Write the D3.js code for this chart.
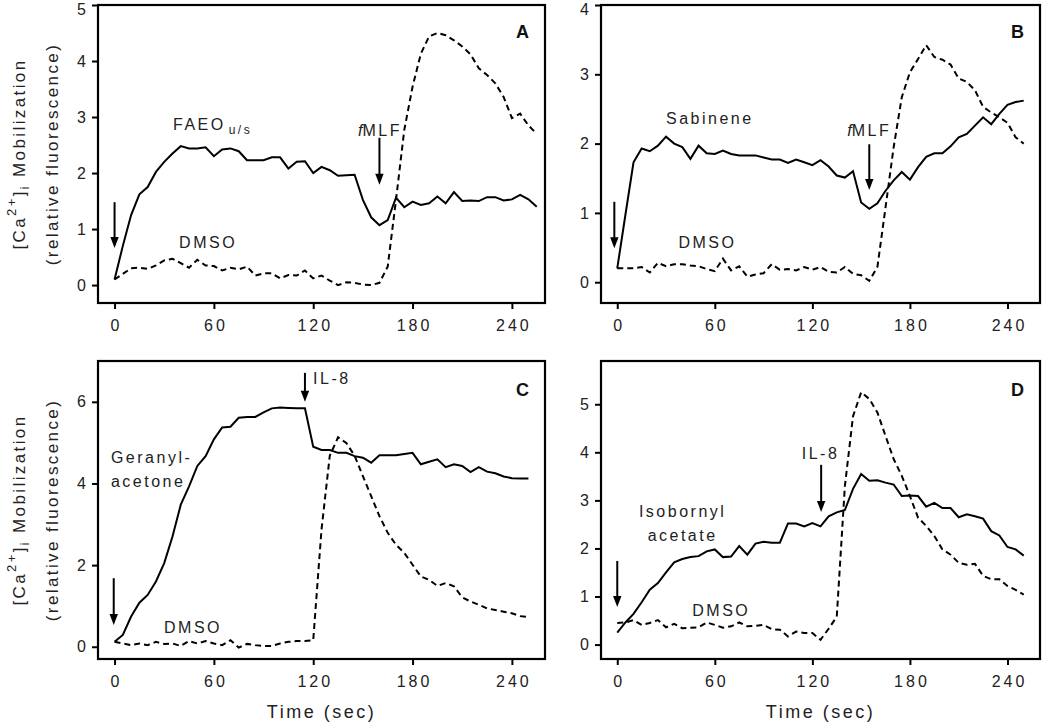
<!DOCTYPE html>
<html><head><meta charset="utf-8">
<script src="https://cdn.jsdelivr.net/npm/d3@7"></script>
<style>
body{margin:0;background:#fff;}
svg{display:block;font-family:"Liberation Sans",Arial,sans-serif;}
</style></head>
<body><svg id="chart" width="1050" height="722"></svg>
<script>
// ---------------- DATA ----------------
const xTicks = [0, 60, 120, 180, 240];
const timeA = d3.range(0, 256, 5);   // 0..255
const timeB = d3.range(0, 251, 5);   // 0..250
const timeC = d3.range(0, 251, 5);
const timeD = d3.range(0, 251, 5);

const solidA = [0.10,0.70,1.25,1.62,1.75,2.02,2.20,2.35,2.48,2.44,2.44,2.46,2.30,2.42,2.44,2.39,2.23,2.23,2.23,2.28,2.28,2.08,2.20,2.21,2.00,2.11,2.05,1.95,1.96,1.97,1.52,1.21,1.07,1.16,1.56,1.39,1.49,1.43,1.46,1.58,1.46,1.66,1.50,1.51,1.50,1.57,1.57,1.51,1.53,1.61,1.53,1.40];
const dmsoA  = [0.10,0.20,0.30,0.31,0.29,0.35,0.44,0.47,0.39,0.31,0.45,0.35,0.34,0.26,0.31,0.28,0.33,0.17,0.21,0.21,0.12,0.18,0.17,0.26,0.12,0.17,0.08,0.00,0.05,0.04,0.01,0.00,0.04,0.33,1.52,2.77,3.54,4.13,4.44,4.50,4.46,4.37,4.26,4.12,3.87,3.75,3.60,3.36,2.98,3.06,2.85,2.70];

const solidB = [0.20,0.97,1.73,1.93,1.89,1.97,2.10,2.00,1.95,1.78,1.97,1.86,1.85,1.90,1.85,1.83,1.83,1.83,1.80,1.77,1.77,1.72,1.77,1.73,1.69,1.76,1.67,1.54,1.51,1.60,1.15,1.06,1.14,1.32,1.47,1.59,1.48,1.66,1.81,1.86,1.86,1.96,2.09,2.14,2.26,2.38,2.28,2.43,2.56,2.60,2.62];
const dmsoB  = [0.20,0.20,0.20,0.22,0.14,0.28,0.23,0.26,0.26,0.24,0.23,0.19,0.16,0.34,0.17,0.23,0.08,0.11,0.13,0.26,0.18,0.19,0.17,0.22,0.18,0.22,0.15,0.14,0.22,0.12,0.10,0.02,0.22,1.08,1.95,2.67,3.03,3.22,3.42,3.25,3.21,3.14,2.94,2.89,2.77,2.53,2.45,2.38,2.30,2.09,2.00];

const solidC = [0.12,0.29,0.74,1.08,1.27,1.60,2.05,2.70,3.48,3.93,4.43,4.67,5.08,5.37,5.39,5.61,5.63,5.63,5.74,5.84,5.86,5.85,5.84,5.84,4.90,4.82,4.82,4.75,4.75,4.67,4.63,4.51,4.69,4.69,4.69,4.72,4.75,4.47,4.53,4.59,4.40,4.47,4.43,4.28,4.40,4.29,4.25,4.17,4.13,4.12,4.12];
const dmsoC  = [0.12,0.08,0.04,0.08,0.04,0.12,0.07,0.08,0.02,0.14,0.08,0.14,0.08,0.04,0.16,-0.02,0.07,0.04,0.02,0.02,0.08,0.12,0.14,0.14,0.16,2.87,4.68,5.13,4.99,4.68,4.18,3.69,3.20,2.79,2.50,2.30,2.01,1.72,1.64,1.49,1.56,1.48,1.21,1.11,1.03,0.94,0.90,0.86,0.82,0.75,0.73];

const solidD = [0.25,0.46,0.64,0.88,1.14,1.28,1.50,1.71,1.78,1.82,1.84,1.94,1.98,1.82,1.83,2.05,1.87,2.10,2.14,2.12,2.12,2.52,2.52,2.46,2.53,2.46,2.67,2.75,2.80,3.24,3.55,3.41,3.42,3.37,3.33,3.09,3.10,3.09,2.87,2.95,2.84,2.84,2.65,2.71,2.67,2.62,2.36,2.27,2.03,1.98,1.85];
const dmsoD  = [0.45,0.46,0.51,0.41,0.45,0.51,0.36,0.43,0.34,0.35,0.36,0.46,0.41,0.35,0.38,0.46,0.38,0.39,0.41,0.32,0.31,0.17,0.27,0.24,0.24,0.10,0.33,0.58,3.30,4.75,5.25,5.11,4.83,4.34,3.86,3.51,3.09,2.64,2.47,2.26,1.98,1.87,1.70,1.66,1.68,1.43,1.36,1.36,1.22,1.14,1.04];

const yTicksA = [0,1,2,3,4,5];
const yTicksB = [0,1,2,3,4];
const yTicksC = [0,2,4,6];
const yTicksD = [0,1,2,3,4,5];

// annotation texts (positions in data units)
const textsA = [
  {t:35.3, v:2.77, anchor:"start", parts:[["FAEO",""],["u/s","sub"]]},
  {t:160.3, v:2.66, anchor:"middle", parts:[["f","ital"],["MLF",""]]},
  {t:56.5, v:0.66, anchor:"middle", parts:[["DMSO",""]]}
];
const arrowsA = [{t:0, v0:1.48, v1:0.66},{t:160, v0:2.63, v1:1.79}];
const textsB = [
  {t:56.9, v:2.29, anchor:"middle", parts:[["Sabinene",""]]},
  {t:155, v:2.11, anchor:"middle", parts:[["f","ital"],["MLF",""]]},
  {t:55.5, v:0.49, anchor:"middle", parts:[["DMSO",""]]}
];
const arrowsB = [{t:-1.8, v0:1.16, v1:0.49},{t:155, v0:1.99, v1:1.33}];
const textsC = [
  {t:-2.2, v:4.50, anchor:"start", parts:[["Geranyl-",""]]},
  {t:-2.2, v:3.92, anchor:"start", parts:[["acetone",""]]},
  {t:119.9, v:6.44, anchor:"start", parts:[["IL-8",""]]},
  {t:47.4, v:0.34, anchor:"middle", parts:[["DMSO",""]]}
];
const arrowsC = [{t:-0.5, v0:1.68, v1:0.53},{t:115, v0:6.71, v1:6.0}];
const textsD = [
  {t:40.2, v:2.65, anchor:"middle", parts:[["Isobornyl",""]]},
  {t:40.2, v:2.15, anchor:"middle", parts:[["acetate",""]]},
  {t:125, v:3.86, anchor:"middle", parts:[["IL-8",""]]},
  {t:64, v:0.60, anchor:"middle", parts:[["DMSO",""]]}
];
const arrowsD = [{t:0, v0:1.74, v1:0.78},{t:125.4, v0:3.74, v1:2.76}];

// ---------------- LAYOUT ----------------
const panels = [
  {id:"A", box:[98,545,5,303],  yDom:[-0.32,5], yTicks:yTicksA, time:timeA, solid:solidA, dmso:dmsoA, texts:textsA, arrows:arrowsA, ytitle:true,  xtitle:false},
  {id:"B", box:[601,1040,5,303],yDom:[-0.3,4],  yTicks:yTicksB, time:timeB, solid:solidB, dmso:dmsoB, texts:textsB, arrows:arrowsB, ytitle:false, xtitle:false},
  {id:"C", box:[98,545,361,659],yDom:[-0.3,7],  yTicks:yTicksC, time:timeC, solid:solidC, dmso:dmsoC, texts:textsC, arrows:arrowsC, ytitle:true,  xtitle:true},
  {id:"D", box:[601,1040,361,659],yDom:[-0.3,5.9],yTicks:yTicksD, time:timeD, solid:solidD, dmso:dmsoD, texts:textsD, arrows:arrowsD, ytitle:false, xtitle:true}
];

const svg = d3.select("#chart");

panels.forEach(p => {
  const [x0,x1,y0,y1] = p.box;
  const x = d3.scaleLinear().domain([-10,260]).range([x0,x1]);
  const y = d3.scaleLinear().domain(p.yDom).range([y1,y0]);
  const g = svg.append("g");

  // x axis
  const xa = g.append("g").attr("transform",`translate(0,${y1})`)
    .call(d3.axisBottom(x).tickValues(xTicks).tickSize(6).tickSizeOuter(0).tickPadding(11));
  xa.select(".domain").remove();
  xa.selectAll("line").attr("stroke","#000").attr("stroke-width",2);
  xa.selectAll("text").attr("font-size",16).attr("fill","#222")
    .attr("font-family","Liberation Sans, Arial, sans-serif")
    .style("letter-spacing","3px").attr("dx","1.5");

  // y axis
  const ya = g.append("g").attr("transform",`translate(${x0},0)`)
    .call(d3.axisLeft(y).tickValues(p.yTicks).tickSize(6).tickSizeOuter(0).tickPadding(6).tickFormat(d3.format("d")));
  ya.select(".domain").remove();
  ya.selectAll("line").attr("stroke","#000").attr("stroke-width",2);
  ya.selectAll("text").attr("font-size",16).attr("fill","#222")
    .attr("font-family","Liberation Sans, Arial, sans-serif")
    .attr("dy", d => (y(d) < 12 ? "0.62em" : "0.32em"));

  // lines
  const line = d3.line().x((d,i)=>x(p.time[i])).y(d=>y(d));
  g.append("path").datum(p.dmso).attr("d",line).attr("fill","none")
    .attr("stroke","#000").attr("stroke-width",2).attr("stroke-dasharray","6,4");
  g.append("path").datum(p.solid).attr("d",line).attr("fill","none")
    .attr("stroke","#000").attr("stroke-width",2).attr("stroke-linejoin","miter");

  // frame
  g.append("rect").attr("x",x0).attr("y",y0).attr("width",x1-x0).attr("height",y1-y0)
    .attr("fill","none").attr("stroke","#000").attr("stroke-width",2.2);

  // panel letter
  g.append("text").attr("x",x1-16).attr("y",y0 + (y0<100?33:35)).attr("text-anchor","end")
    .attr("font-size",18).attr("font-weight","bold").attr("fill","#111").text(p.id);

  // annotation texts
  p.texts.forEach(a => {
    const t = g.append("text").attr("x",x(a.t)).attr("y",y(a.v)).attr("text-anchor",a.anchor)
      .attr("font-size",16).attr("fill","#222").style("letter-spacing","2.5px");
    a.parts.forEach(([s,kind]) => {
      const ts = t.append("tspan").text(s);
      if (kind==="sub") ts.attr("font-size",12).attr("dy",4).attr("dx",3);
      if (kind==="ital") ts.attr("font-style","italic").style("letter-spacing","0px");
    });
  });

  // arrows
  p.arrows.forEach(a => {
    const ax = x(a.t), ya0 = y(a.v0), ya1 = y(a.v1);
    const head = 11, hw = 4.2;
    g.append("line").attr("x1",ax).attr("x2",ax).attr("y1",ya0).attr("y2",ya1-head+1)
      .attr("stroke","#000").attr("stroke-width",2);
    g.append("path").attr("d",`M${ax-hw},${ya1-head} L${ax+hw},${ya1-head} L${ax},${ya1} Z`).attr("fill","#000");
  });

  // y title
  if (p.ytitle) {
    const cy = (y0+y1)/2;
    const t1 = g.append("text").attr("transform",`translate(25,${cy}) rotate(-90)`)
      .attr("text-anchor","middle").attr("font-size",17).attr("fill","#222").style("letter-spacing","2.4px");
    t1.append("tspan").text("[Ca");
    t1.append("tspan").text("2+").attr("font-size",13).attr("dy",-9);
    t1.append("tspan").text("]").attr("dy",9);
    t1.append("tspan").text("i").attr("font-size",12).attr("dy",4);
    t1.append("tspan").text(" Mobilization").attr("dy",-4);
    g.append("text").attr("transform",`translate(58,${cy}) rotate(-90)`)
      .attr("text-anchor","middle").attr("font-size",17).attr("fill","#222").style("letter-spacing","2.4px")
      .text("(relative fluorescence)");
  }
  // x title
  if (p.xtitle) {
    g.append("text").attr("x",(x0+x1)/2).attr("y",718).attr("text-anchor","middle")
      .attr("font-size",18).attr("fill","#222").style("letter-spacing","2.5px").text("Time (sec)");
  }
});
</script>
</body></html>
